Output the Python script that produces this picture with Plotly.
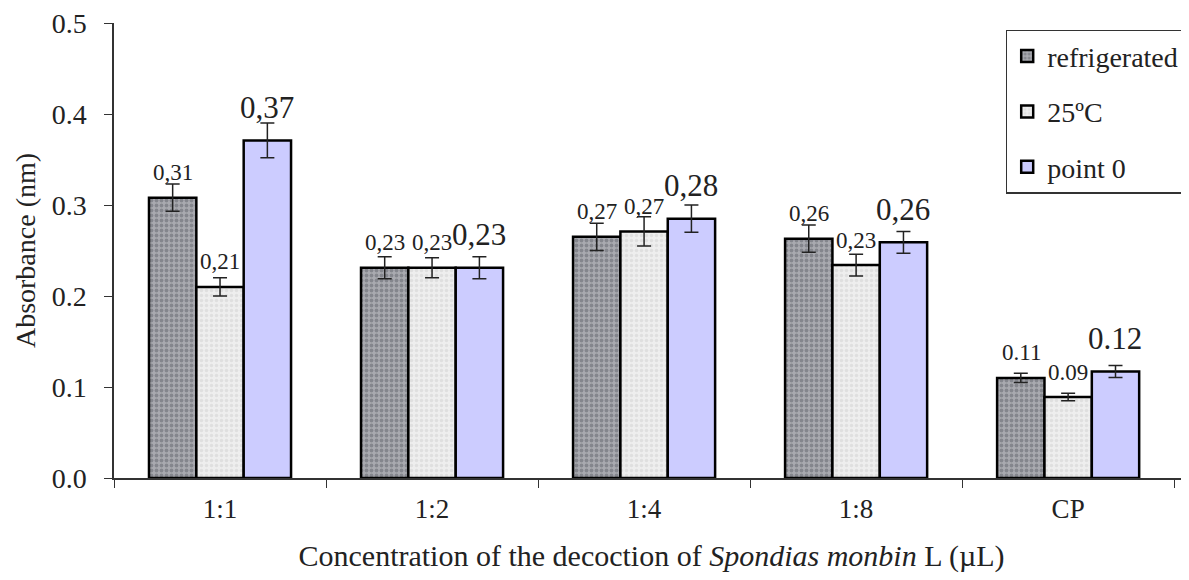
import plotly.graph_objects as go

categories = ["1:1", "1:2", "1:4", "1:8", "CP"]
refrigerated = [0.308, 0.231, 0.265, 0.263, 0.110]
temp25 = [0.210, 0.231, 0.271, 0.234, 0.089]
point0 = [0.371, 0.231, 0.285, 0.259, 0.117]
err_refrigerated = [0.015, 0.012, 0.015, 0.015, 0.005]
err_temp25 = [0.010, 0.011, 0.016, 0.012, 0.004]
err_point0 = [0.019, 0.012, 0.015, 0.012, 0.0065]
labels_refrigerated = ["0,31", "0,23", "0,27", "0,26", "0.11"]
labels_temp25 = ["0,21", "0,23", "0,27", "0,23", "0.09"]
labels_point0 = ["0,37", "0,23", "0,28", "0,26", "0.12"]
series_names = ["refrigerated", "25ºC", "point 0"]
y_ticks = [0.0, 0.1, 0.2, 0.3, 0.4, 0.5]

FONT = "Liberation Serif"

fig = go.Figure()

styles = [
    dict(bgcolor="#a9aab0", fgcolor="#60616a", shape=".", size=5, solidity=0.45),
    dict(bgcolor="#eeeeee", fgcolor="#d0d0d0", shape=".", size=5, solidity=0.4),
    None,
]
fills = ["#a9aab0", "#eeeeee", "#ccccff"]
data = [refrigerated, temp25, point0]
errs = [err_refrigerated, err_temp25, err_point0]

for i, (name, vals, er) in enumerate(zip(series_names, data, errs)):
    marker = dict(color=fills[i], line=dict(color="black", width=2.5))
    if styles[i] is not None:
        marker["pattern"] = styles[i]
    fig.add_trace(go.Bar(
        x=categories, y=vals, name=name, marker=marker,
        legendgroup=name,
        error_y=dict(type="data", array=er, visible=True, color="#222222",
                     thickness=1.5, width=7),
    ))

# data labels
label_sets = [labels_refrigerated, labels_temp25, labels_point0]
bar_px = 47
for i, (labs, vals) in enumerate(zip(label_sets, data)):
    big = i == 2
    for c, v, t in zip(categories, vals, labs):
        fig.add_annotation(
            x=c, y=v, text=t, showarrow=False, xref="x", yref="y",
            xshift=(i - 1) * bar_px, yshift=33 if big else 25,
            yanchor="middle",
            font=dict(family=FONT, size=31 if big else 23, color="#222222"),
        )

fig.update_layout(
    width=1189, height=580,
    margin=dict(l=106, r=8, t=15, b=110, autoexpand=False),
    paper_bgcolor="white", plot_bgcolor="white",
    barmode="group", bargap=0.33, bargroupgap=0,
    font=dict(family=FONT, color="#222222"),
    legend=dict(
        x=0.996, y=0.985, xanchor="right", yanchor="top",
        bgcolor="white", bordercolor="#333333", borderwidth=1.5,
        font=dict(family=FONT, size=28, color="#222222"),
        tracegroupgap=16, itemwidth=30,
    ),
    showlegend=True,
)

fig.update_yaxes(
    range=[0, 0.5], tickvals=y_ticks, ticktext=[f"{v:.1f}" for v in y_ticks],
    ticklabeloverflow="allow", automargin=False,
    showline=True, linecolor="#333333", linewidth=1.5,
    ticks="outside", ticklen=8, tickcolor="#333333",
    showgrid=False, zeroline=False, ticklabelstandoff=12,
    tickfont=dict(family=FONT, size=28, color="#222222"),
    title=dict(text="Absorbance (nm)", font=dict(family=FONT, size=28, color="#222222"), standoff=8),
)
fig.update_xaxes(
    range=[-0.5, 4.57], automargin=False,
    showline=True, linecolor="#333333", linewidth=1.5,
    ticks="outside", ticklen=8, tickcolor="#333333", tickson="boundaries",
    showgrid=False, ticklabelstandoff=6,
    tickfont=dict(family=FONT, size=27, color="#222222"),
    title=dict(text="Concentration of the decoction of <i>Spondias monbin</i> L (µL)",
               font=dict(family=FONT, size=30, color="#222222"), standoff=22),
)

fig.write_html("out.html")
